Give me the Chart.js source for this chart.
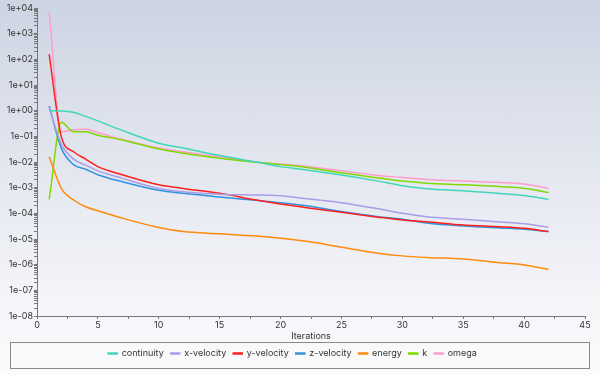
<!DOCTYPE html>
<html>
<head>
<meta charset="utf-8">
<script src="https://cdn.jsdelivr.net/npm/chart.js@4/dist/chart.umd.min.js"></script>
<style>
  html, body { margin: 0; padding: 0; }
  body {
    width: 600px; height: 375px; overflow: hidden;
    background: linear-gradient(to bottom, #cdd4e2 0%, #e6e9f1 50%, #f6f7fa 85%, #fbfbfc 100%);
  }
  #wrap { position: relative; width: 600px; height: 375px; }
</style>
</head>
<body>
<div id="wrap"><canvas id="residuals"></canvas></div>
<script>
const iterations = [1, 2, 3, 4, 5, 7, 10, 12, 15, 18, 20, 22, 25, 28, 30, 32, 35, 38, 40, 42];

const continuity = [1.0, 0.98, 0.87, 0.6, 0.4, 0.17, 0.054, 0.035, 0.018, 0.010, 0.0066, 0.005, 0.0031, 0.0018, 0.0012, 0.00091, 0.00076, 0.00059, 0.00049, 0.00035];
const xVelocity = [1.3, 0.05, 0.013, 0.0076, 0.0045, 0.0023, 0.00093, 0.0007, 0.00056, 0.00052, 0.00048, 0.00038, 0.00026, 0.00015, 0.0001, 7.4e-5, 5.9e-5, 4.6e-5, 3.9e-5, 2.9e-5];
const yVelocity = [158, 0.095, 0.025, 0.013, 0.0066, 0.0032, 0.0013, 0.00093, 0.0006, 0.00033, 0.00023, 0.00017, 0.00011, 7.1e-5, 5.5e-5, 4.7e-5, 3.5e-5, 3.0e-5, 2.6e-5, 1.95e-5];
const zVelocity = [1.5, 0.034, 0.0079, 0.0052, 0.0032, 0.0017, 0.00079, 0.0006, 0.00043, 0.00032, 0.00026, 0.0002, 0.000117, 7.4e-5, 5.9e-5, 4.2e-5, 3.2e-5, 2.7e-5, 2.4e-5, 1.95e-5];
const energy = [0.016, 0.00093, 0.00033, 0.00018, 0.000126, 6.5e-5, 2.8e-5, 1.95e-5, 1.6e-5, 1.3e-5, 1.07e-5, 8.3e-6, 4.8e-6, 2.8e-6, 2.2e-6, 1.9e-6, 1.66e-6, 1.2e-6, 9.8e-7, 6.6e-7];
const kResidual = [0.00035, 0.35, 0.15, 0.15, 0.11, 0.072, 0.032, 0.022, 0.014, 0.0098, 0.0079, 0.0063, 0.0038, 0.0024, 0.0018, 0.0015, 0.0013, 0.0011, 0.00095, 0.00065];
const omega = [6600, 0.15, 0.18, 0.19, 0.14, 0.076, 0.035, 0.025, 0.016, 0.010, 0.0083, 0.0069, 0.0046, 0.003, 0.0025, 0.0021, 0.0018, 0.0016, 0.0014, 0.00095];

const seriesNames = ["continuity", "x-velocity", "y-velocity", "z-velocity", "energy", "k", "omega"];
const seriesValues = [continuity, xVelocity, yVelocity, zVelocity, energy, kResidual, omega];
const seriesColors = ["#3fd6b9", "#a99de6", "#ff1f1f", "#2f93e0", "#ff8a0a", "#7fd900", "#ff9ccc"];

const FONT = "Inter, 'Noto Sans', sans-serif";

function expLabel(v) {
  let e = Math.round(Math.log10(v));
  let s = e < 0 ? "-" : "+";
  let a = Math.abs(e);
  return "1e" + s + (a < 10 ? "0" + a : a);
}

function makeDatasets() {
  return seriesNames.map(function (name, i) {
    return {
      label: name,
      data: iterations.map(function (it, j) { return { x: it, y: seriesValues[i][j] }; }),
      borderColor: seriesColors[i],
      backgroundColor: seriesColors[i],
      borderWidth: 1.5,
      pointRadius: 0,
      cubicInterpolationMode: "monotone",
    };
  });
}

// frame round the legend
const legendBox = {
  id: "legendBox",
  afterDraw(chart) {
    const lg = chart.legend;
    const ctx = chart.ctx;
    ctx.save();
    ctx.strokeStyle = "#8a8a8a";
    ctx.lineWidth = 1;
    ctx.strokeRect(10.5, lg.top + 0.5, 579, lg.bottom - lg.top);
    ctx.restore();
  },
};

function init() {
  const ctx = document.getElementById("residuals");
  new Chart(ctx, {
    type: "line",
    data: { datasets: makeDatasets() },
    plugins: [legendBox],
    options: {
      responsive: true,
      maintainAspectRatio: false,
      animation: false,
      layout: { padding: { left: 0, right: 15, top: 8, bottom: 7 } },
      plugins: {
        tooltip: { enabled: false },
        legend: {
          position: "bottom",
          labels: {
            font: { family: FONT, size: 9 },
            color: "#333",
            boxWidth: 9,
            boxHeight: 1,
            padding: 7,
          },
        },
      },
      scales: {
        x: {
          type: "linear",
          min: 0,
          max: 45,
          afterBuildTicks(scale) {
            let t = [];
            for (let v = 0; v <= 45; v += 2.5) t.push({ value: v });
            scale.ticks = t;
          },
          afterFit(scale) { scale.height = 26; },
          ticks: {
            autoSkip: false,
            maxRotation: 0,
            padding: 1,
            font: { family: FONT, size: 9 },
            color: "#333",
            callback: function (v) { return v % 5 === 0 ? String(v) : ""; },
          },
          grid: { drawOnChartArea: false, tickLength: 3, tickColor: "#777" },
          border: { color: "#777" },
          title: {
            display: true,
            text: "Iterations",
            font: { family: FONT, size: 9 },
            color: "#333",
            padding: { top: 1, bottom: 0 },
          },
        },
        y: {
          type: "logarithmic",
          min: 1e-8,
          max: 1e4,
          afterBuildTicks(scale) {
            let t = [];
            for (let e = -8; e < 4; e++) {
              for (let m = 1; m < 10; m++) t.push({ value: m * Math.pow(10, e), major: m === 1 });
            }
            t.push({ value: 1e4, major: true });
            scale.ticks = t;
          },
          afterFit(scale) { scale.width = 37; },
          ticks: {
            autoSkip: false,
            padding: 1,
            font: { family: FONT, size: 9 },
            color: "#333",
            callback: function (v) {
              let l = Math.log10(v);
              return Math.abs(l - Math.round(l)) < 1e-9 ? expLabel(v) : "";
            },
          },
          grid: { drawOnChartArea: false, tickLength: 3, tickColor: "#777" },
          border: { color: "#777" },
        },
      },
    },
  });
}

window.onload = init;
</script>
</body>
</html>
